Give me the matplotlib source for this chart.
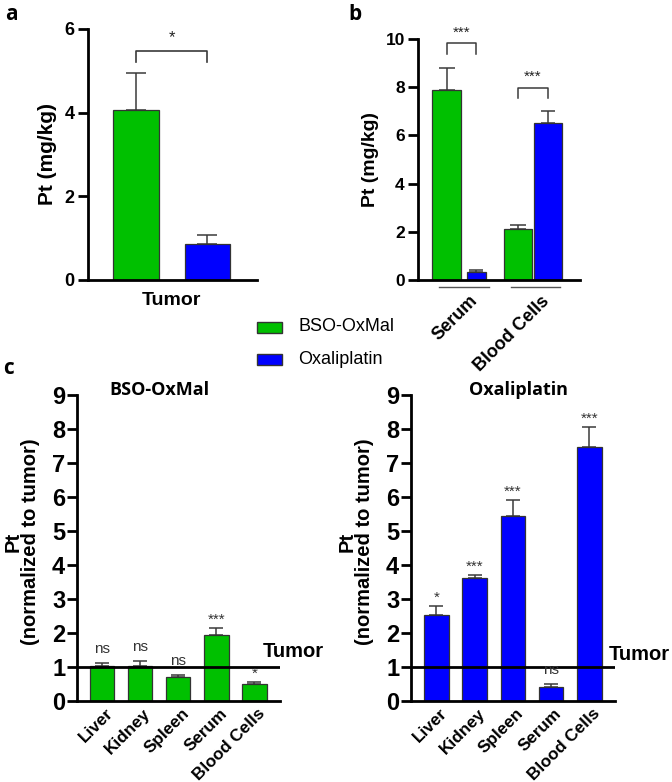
import matplotlib
matplotlib.use('Agg')
import matplotlib.pyplot as plt
import numpy as np
from matplotlib.patches import Rectangle
from matplotlib.transforms import ScaledTranslation

plt.rcParams['font.family'] = ['Liberation Sans', 'DejaVu Sans']

GREEN = '#00C000'
BLUE = '#0000FF'
EDGE = '#333333'
ERRC = '#3a3a3a'

# ---------------- data ----------------
# panel a
a_groups = ['BSO-OxMal', 'Oxaliplatin']
a_vals = [4.07, 0.87]
a_errs = [0.88, 0.20]
a_category = 'Tumor'
a_sig = '*'

# panel b
b_categories = ['Serum', 'Blood Cells']
b_bso = [7.88, 2.10]
b_bso_err = [0.90, 0.17]
b_oxa = [0.35, 6.50]
b_oxa_err = [0.08, 0.50]
b_sig = ['***', '***']

# panel c
c_organs = ['Liver', 'Kidney', 'Spleen', 'Serum', 'Blood Cells']
c_bso = [1.02, 1.01, 0.69, 1.92, 0.50]
c_bso_err = [0.08, 0.15, 0.06, 0.22, 0.06]
c_bso_sig = ['ns', 'ns', 'ns', '***', '*']
c_oxa = [2.53, 3.60, 5.43, 0.41, 7.46]
c_oxa_err = [0.27, 0.11, 0.48, 0.07, 0.59]
c_oxa_sig = ['*', '***', '***', 'ns', '***']
tumor_level = 1.0

fig = plt.figure(figsize=(6.72, 7.82), dpi=100)

def style_axes(ax, lw=2.0):
    for s in ['top', 'right']:
        ax.spines[s].set_visible(False)
    for s in ['left', 'bottom']:
        ax.spines[s].set_linewidth(lw)
        ax.spines[s].set_color('black')
    ax.tick_params(axis='y', length=7.5, width=lw, pad=2)
    ax.tick_params(axis='x', length=0)

def offset_labels(ax, dx_px):
    for lbl in ax.get_xticklabels():
        lbl.set_transform(lbl.get_transform() + ScaledTranslation(dx_px / 100, 0, fig.dpi_scale_trans))

# ---------------- panel a ----------------
ax_a = fig.add_axes([0.131, 0.642, 0.251, 0.321])
style_axes(ax_a)
xa = np.arange(len(a_vals))
ax_a.bar(xa, a_vals, width=0.64, color=[GREEN, BLUE], edgecolor=EDGE, linewidth=0.9, zorder=2)
ax_a.errorbar(xa, a_vals, yerr=[np.zeros(len(a_errs)), a_errs], fmt='none', ecolor=ERRC,
              elinewidth=1.1, capsize=7, capthick=1.1, zorder=1)
ax_a.set_xlim(-0.67, 1.69)
ax_a.set_ylim(0, 6)
ax_a.set_yticks([0, 2, 4, 6])
ax_a.set_xticks([0.5])
ax_a.set_xticklabels([a_category], fontsize=14, fontweight='bold')
ax_a.tick_params(axis='x', pad=9)
for l in ax_a.get_yticklabels():
    l.set_fontsize(13); l.set_fontweight('bold')
ax_a.set_ylabel('Pt (mg/kg)', fontsize=15, fontweight='bold')
ax_a.yaxis.set_label_coords(-0.185, 0.5)
# bracket
ax_a.plot([xa[0], xa[0], xa[1], xa[1]], [5.2, 5.47, 5.47, 5.2], color=ERRC, lw=1.2, clip_on=False)
ax_a.text(0.5, 5.8, a_sig, ha='center', va='center', fontsize=12, color='#222222')

# ---------------- panel b ----------------
ax_b = fig.add_axes([0.622, 0.642, 0.241, 0.308])
style_axes(ax_b)
xb = np.arange(len(b_categories))
off = 0.21
bso_w = [0.40, 0.40]
oxa_w = [0.27, 0.39]
ax_b.bar(xb - off, b_bso, width=bso_w, color=GREEN, edgecolor=EDGE, linewidth=0.9, zorder=2)
ax_b.bar(xb + off, b_oxa, width=oxa_w, color=BLUE, edgecolor=EDGE, linewidth=0.9, zorder=2)
ax_b.errorbar(xb - off, b_bso, yerr=[np.zeros(2), b_bso_err], fmt='none', ecolor=ERRC,
              elinewidth=1.1, capsize=6, capthick=1.1, zorder=1)
ax_b.errorbar(xb + off, b_oxa, yerr=[np.zeros(2), b_oxa_err], fmt='none', ecolor=ERRC,
              elinewidth=1.1, capsize=5, capthick=1.1, zorder=1)
ax_b.set_xlim(-0.61, 1.66)
ax_b.set_ylim(0, 10)
ax_b.set_yticks([0, 2, 4, 6, 8, 10])
for l in ax_b.get_yticklabels():
    l.set_fontsize(12.5); l.set_fontweight('bold')
ax_b.set_ylabel('Pt (mg/kg)', fontsize=14, fontweight='bold')
ax_b.yaxis.set_label_coords(-0.24, 0.5)
ax_b.set_xticks(xb)
ax_b.set_xticklabels(b_categories, rotation=45, ha='right', va='top', rotation_mode='anchor',
                     fontsize=13, fontweight='bold')
ax_b.tick_params(axis='x', pad=9)
offset_labels(ax_b, 8)
# underlines
for g in xb:
    ax_b.plot([g - 0.31, g + 0.38], [-0.29, -0.29], color='#555555', lw=1.0, clip_on=False)
# brackets
br_y = [9.83, 7.97]
for g, y, s in zip(xb, br_y, b_sig):
    ax_b.plot([g - off, g - off, g + off, g + off], [y - 0.43, y, y, y - 0.43],
              color=ERRC, lw=1.1, clip_on=False)
    ax_b.text(g, y + 0.45, s, ha='center', va='center', fontsize=11, color='#222222', clip_on=False)

# ---------------- panel c ----------------
def panel_c(rect, vals, errs, sigs, color, title, title_x, tumor_x, tumor_y):
    ax = fig.add_axes(rect)
    style_axes(ax)
    x = np.arange(len(vals))
    ax.bar(x, vals, width=0.64, color=color, edgecolor=EDGE, linewidth=0.9, zorder=2)
    ax.errorbar(x, vals, yerr=[np.zeros(len(errs)), errs], fmt='none', ecolor=ERRC,
                elinewidth=1.1, capsize=5, capthick=1.1, zorder=1)
    ax.axhline(tumor_level, color='black', lw=2.0, zorder=3)
    ax.set_xlim(-0.66, 4.67)
    ax.set_ylim(0, 9)
    ax.set_yticks(range(0, 10))
    for l in ax.get_yticklabels():
        l.set_fontsize(17); l.set_fontweight('bold')
    ax.tick_params(axis='y', length=7, pad=1.5)
    ax.set_xticks(x)
    ax.set_xticklabels(c_organs, rotation=45, ha='right', va='top', rotation_mode='anchor',
                       fontsize=12.3, fontweight='bold')
    ax.tick_params(axis='x', pad=3.5)
    offset_labels(ax, 3)
    ax.set_ylabel('Pt\n(normalized to tumor)', fontsize=14.5, fontweight='bold', linespacing=0.9)
    ax.yaxis.set_label_coords(-0.18, 0.52)
    for xi, v, e, s in zip(x, vals, errs, sigs):
        dy = 0.42 if s == 'ns' else 0.24
        ax.text(xi, v + e + dy, s, ha='center', va='center', fontsize=11, color='#333333',
                clip_on=False)
    ax.text(tumor_x, tumor_y, 'Tumor', ha='left', va='center', fontsize=14.5, fontweight='bold',
            clip_on=False)
    ax.text(title_x, 1.0, title, transform=ax.transAxes, ha='center', va='baseline',
            fontsize=13, fontweight='bold', family=['Open Sans', 'DejaVu Sans'])
    return ax

panel_c([0.1146, 0.104, 0.302, 0.391], c_bso, c_bso_err, c_bso_sig, GREEN, 'BSO-OxMal', 0.406, 4.21, 1.46)
panel_c([0.6116, 0.104, 0.3036, 0.391], c_oxa, c_oxa_err, c_oxa_sig, BLUE, 'Oxaliplatin', 0.525, 4.51, 1.35)

# ---------------- legend ----------------
leg_items = [(a_groups[0], GREEN, 0.5742, 0.5831), (a_groups[1], BLUE, 0.5332, 0.5409)]
for name, col, yb, yt in leg_items:
    fig.patches.append(Rectangle((0.3824, yb), 0.0372, 0.0135, transform=fig.transFigure,
                                 facecolor=col, edgecolor=EDGE, linewidth=1.0))
    fig.text(0.4435, yt, name, ha='left', va='center', fontsize=13)

# ---------------- panel letters ----------------
for lab, (x, y) in {'a': (0.008, 0.981), 'b': (0.518, 0.981), 'c': (0.005, 0.529)}.items():
    fig.text(x, y, lab, ha='left', va='center', fontsize=15, fontweight='bold',
             family=['Open Sans', 'DejaVu Sans'])

fig.savefig('out.png', dpi=100)
